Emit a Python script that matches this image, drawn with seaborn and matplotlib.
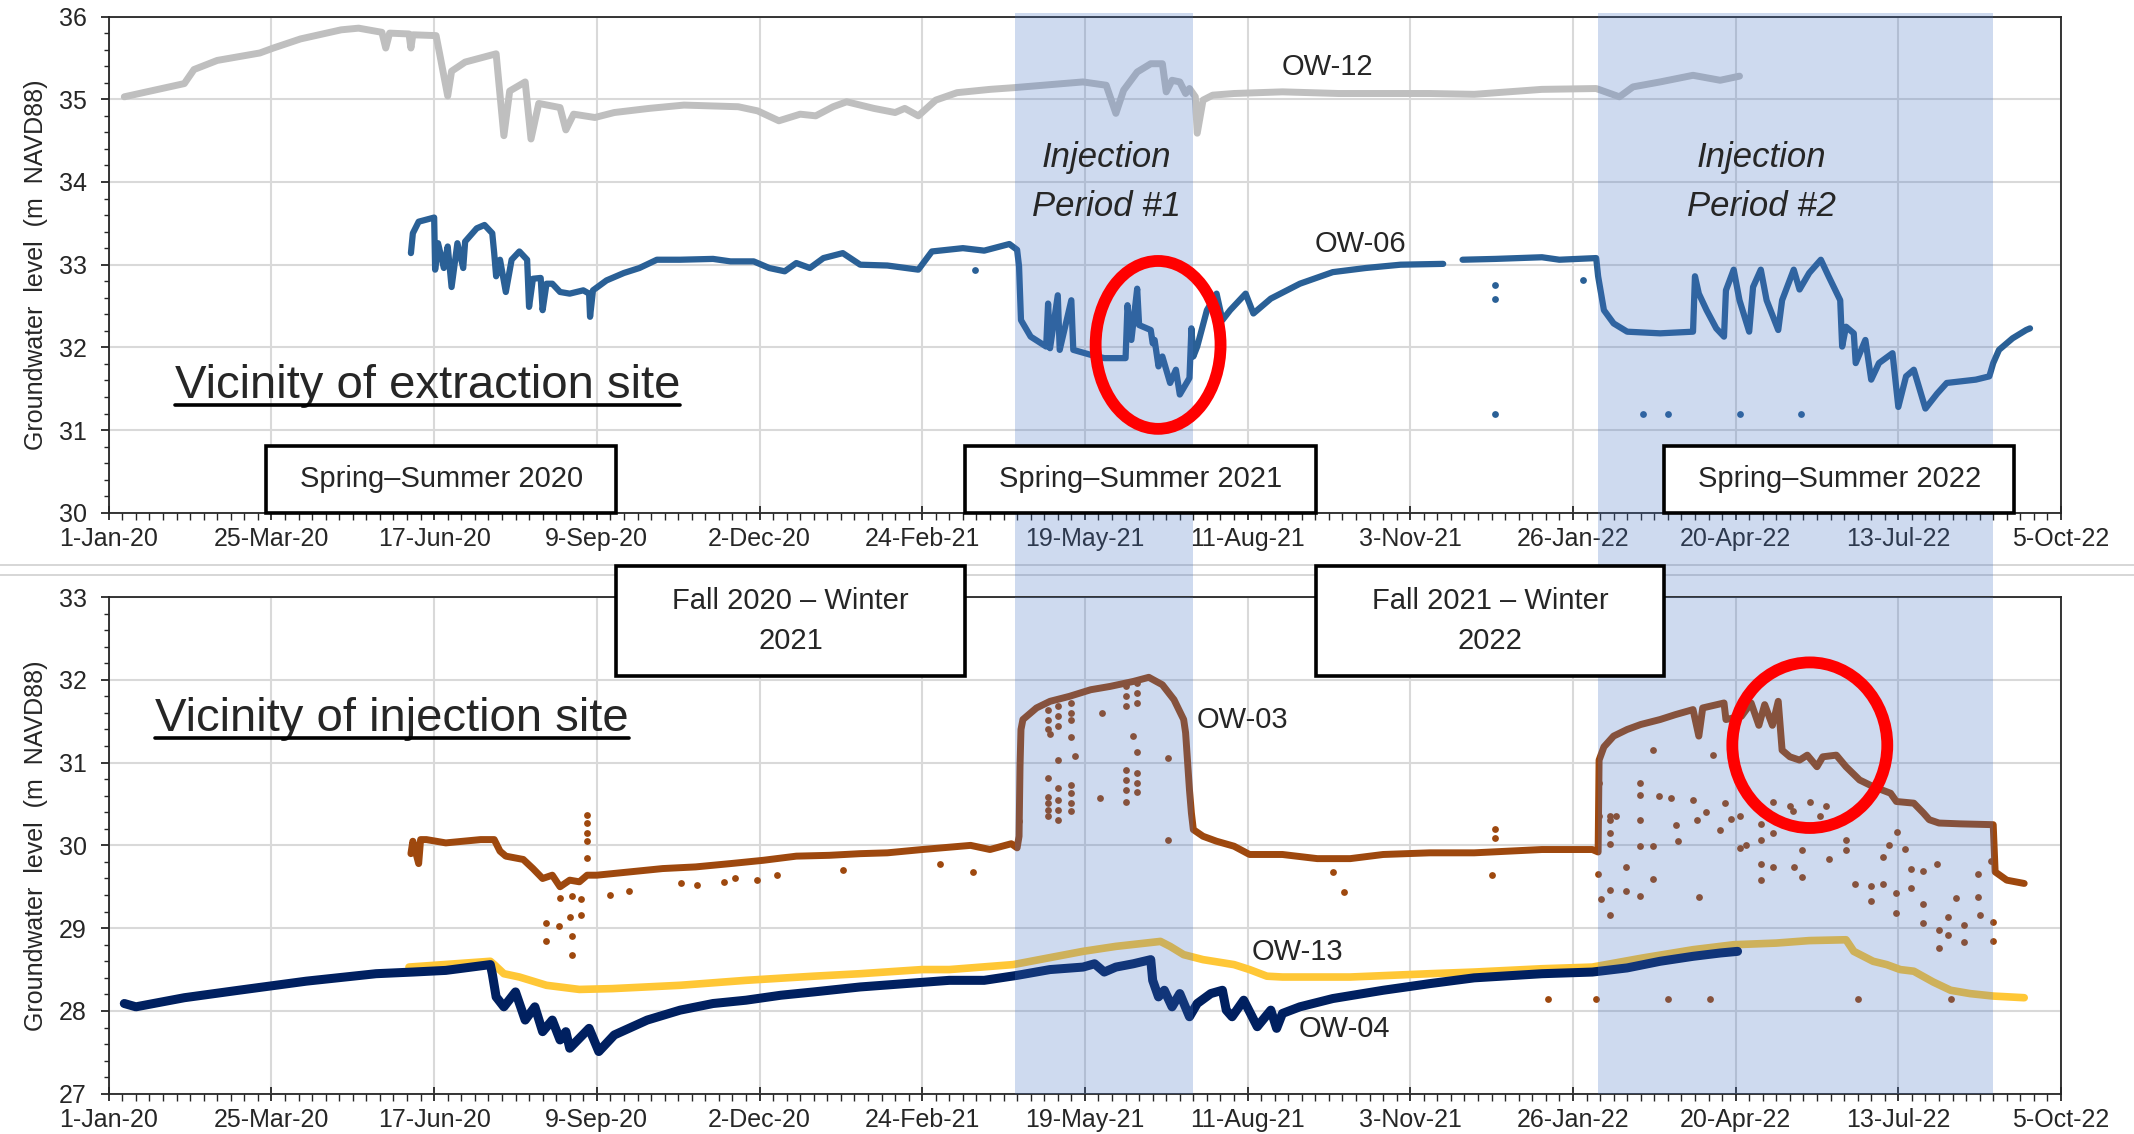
import matplotlib
matplotlib.use("Agg")
import matplotlib.pyplot as plt
import matplotlib.dates as mdates
from matplotlib.patches import Rectangle, Ellipse
from matplotlib.lines import Line2D
from matplotlib.ticker import FixedLocator, MultipleLocator
import seaborn as sns
import numpy as np
import pandas as pd

sns.set_theme(style="white")
plt.rcParams['font.family'] = ['Liberation Sans', 'DejaVu Sans']

START = pd.Timestamp('2020-01-01')
END = pd.Timestamp('2022-10-05')

# ---- data: x = days since 1-Jan-2020, y = groundwater level (m NAVD88) ----
# vicinity of extraction site
ow12_day = [8, 39, 44, 56, 78, 85, 99, 120, 129, 141, 143, 145, 155, 156, 157, 169, 171, 175, 177, 184,
            200, 201, 204, 207, 215, 218, 222, 233, 236, 240, 251, 261, 279, 297, 325, 335, 346, 357, 365,
            374, 381, 395, 406, 411, 418, 427, 438, 455, 467, 503, 515, 520, 524, 531, 538, 544, 546, 549,
            553, 556, 558, 561, 562, 565, 570, 581, 606, 635, 682, 705, 740, 768, 780, 787, 801, 818, 832, 842]
ow12_lvl = [35.03, 35.19, 35.36, 35.47, 35.56, 35.62, 35.73, 35.84, 35.86, 35.81, 35.62, 35.80, 35.79, 35.62,
            35.78, 35.77, 35.53, 35.04, 35.34, 35.45, 35.55, 35.30, 34.56, 35.10, 35.21, 34.52, 34.95, 34.90,
            34.63, 34.82, 34.78, 34.84, 34.89, 34.93, 34.91, 34.86, 34.74, 34.82, 34.80, 34.91, 34.97, 34.89,
            34.84, 34.89, 34.80, 34.99, 35.08, 35.12, 35.14, 35.21, 35.17, 34.83, 35.11, 35.33, 35.43, 35.43,
            35.09, 35.23, 35.21, 35.07, 35.13, 35.03, 34.59, 34.99, 35.05, 35.07, 35.09, 35.07, 35.07, 35.06,
            35.12, 35.13, 35.03, 35.15, 35.21, 35.29, 35.23, 35.28]

ow06a_day = [156, 157, 160, 168, 168.5, 170, 173, 175, 177, 180, 183, 184, 190, 194, 198, 199, 200, 202, 205,
             208, 212, 216, 217, 219, 223, 224, 226, 229, 233, 238, 245, 248, 248.5, 250, 257, 266, 274, 283,
             295, 312, 321, 333, 341, 349, 355, 362, 369, 379, 388, 402, 418, 425, 441, 452, 465, 469, 470,
             471, 476, 484, 485, 486, 490, 491, 497, 498, 507, 514, 525, 526, 528, 531, 532, 538, 539, 540,
             542, 544, 548, 551, 553, 558, 559, 560, 562, 567, 572, 575, 579, 587, 591, 600, 615, 632, 649,
             667, 689]
ow06a_lvl = [33.14, 33.38, 33.52, 33.57, 32.94, 33.26, 32.96, 33.22, 32.73, 33.26, 32.96, 33.28, 33.44, 33.48,
             33.38, 33.14, 32.86, 33.06, 32.67, 33.06, 33.16, 33.06, 32.49, 32.83, 32.84, 32.45, 32.77, 32.77,
             32.67, 32.65, 32.69, 32.65, 32.37, 32.69, 32.81, 32.90, 32.96, 33.06, 33.06, 33.07, 33.04, 33.04,
             32.96, 32.92, 33.02, 32.96, 33.08, 33.14, 33.00, 32.99, 32.94, 33.16, 33.20, 33.17, 33.25, 33.18,
             32.98, 32.33, 32.13, 32.01, 32.53, 31.99, 32.63, 31.97, 32.57, 31.97, 31.91, 31.87, 31.87, 32.51,
             32.09, 32.71, 32.27, 32.21, 32.05, 32.09, 31.77, 31.89, 31.57, 31.73, 31.43, 31.63, 32.23, 31.89,
             32.01, 32.45, 32.65, 32.33, 32.45, 32.65, 32.41, 32.59, 32.77, 32.91, 32.96, 33.00, 33.01]
ow06b_day = [699, 716, 740, 749, 768, 769, 772, 777, 784, 801, 818, 819, 821, 825, 830, 834, 835, 839, 842,
             847, 849, 853, 856, 862, 864, 870, 873, 878, 884, 888, 894, 895, 897, 901, 902, 907, 910, 914,
             921, 924, 928, 932, 938, 944, 949, 964, 971, 973, 976, 983, 990, 992]
ow06b_lvl = [33.06, 33.07, 33.09, 33.06, 33.08, 32.86, 32.45, 32.29, 32.19, 32.17, 32.19, 32.86, 32.65, 32.45,
             32.23, 32.13, 32.69, 32.94, 32.57, 32.19, 32.73, 32.94, 32.57, 32.21, 32.57, 32.94, 32.70, 32.90,
             33.06, 32.86, 32.57, 32.01, 32.25, 32.17, 31.81, 32.09, 31.61, 31.81, 31.93, 31.28, 31.65, 31.73,
             31.26, 31.44, 31.57, 31.61, 31.65, 31.81, 31.97, 32.11, 32.21, 32.23]
ow06_dot_day = [447, 716, 716, 716, 761, 792, 805, 842, 874]
ow06_dot_lvl = [32.94, 32.58, 32.75, 31.20, 32.82, 31.20, 31.20, 31.20, 31.20]

# vicinity of injection site
ow03_day = [156, 157, 160, 161, 164, 174, 192, 199, 202, 205, 214, 219, 224, 229, 233, 238, 243, 247, 252,
            269, 286, 303, 321, 338, 355, 372, 388, 402, 420, 445, 455, 466, 469, 470, 470.5, 471, 472, 479,
            486, 496, 507, 517, 529, 537, 544, 550, 555, 556, 558, 559, 560, 565, 572, 581, 589, 606, 624,
            641, 658, 682, 705, 740, 766, 769, 769.5, 772, 777, 784, 791, 801, 809, 818, 821, 823, 834, 835,
            843, 848, 852, 855, 859, 862, 864, 868, 873, 877, 882, 885, 892, 897, 904, 911, 920, 923, 932,
            937, 940, 945, 956, 973, 974, 980, 989]
ow03_lvl = [29.90, 30.05, 29.78, 30.07, 30.07, 30.03, 30.07, 30.07, 29.93, 29.87, 29.83, 29.72, 29.60, 29.64,
            29.50, 29.58, 29.56, 29.64, 29.64, 29.68, 29.72, 29.74, 29.78, 29.82, 29.87, 29.88, 29.90, 29.91,
            29.95, 30.00, 29.95, 30.02, 29.97, 30.11, 30.95, 31.40, 31.52, 31.66, 31.74, 31.80, 31.88, 31.92,
            31.98, 32.03, 31.94, 31.76, 31.52, 31.36, 30.67, 30.39, 30.19, 30.11, 30.05, 29.99, 29.89, 29.89,
            29.84, 29.84, 29.89, 29.91, 29.91, 29.95, 29.95, 29.92, 31.03, 31.19, 31.32, 31.40, 31.46, 31.52,
            31.58, 31.64, 31.32, 31.66, 31.72, 31.52, 31.56, 31.72, 31.45, 31.70, 31.45, 31.74, 31.15, 31.07,
            31.03, 31.09, 30.95, 31.07, 31.09, 30.95, 30.79, 30.71, 30.63, 30.53, 30.51, 30.39, 30.31, 30.27,
            30.26, 30.25, 29.68, 29.58, 29.54]
ow03_dot_day = [225.5, 225.5, 232.4, 238.1, 239, 239, 243.6, 232.9, 239.3, 243.8, 258.7, 268.7, 295.4, 303.5,
                317.8, 323.3, 334.5, 344.8, 379.2, 246.7, 246.7, 246.7, 246.7, 247, 429, 446, 470, 486, 490,
                497, 499, 512, 513, 529, 531, 547, 547, 632, 638, 714, 716, 716,
                485, 485, 485, 485, 485, 485, 485, 485, 490, 490, 490, 490, 490, 490, 490,
                497, 497, 497, 497, 497, 497, 497, 525, 525, 525, 525, 525, 525, 525,
                531, 531, 531, 531, 531, 531,
                769.5, 769.5, 775, 775, 775, 775, 775, 775, 778.1, 790.5, 790.5, 790.5, 790.5, 790.5,
                797.4, 797.4, 797.4, 800.5, 806.8, 809.4, 810.3, 783.6, 783.3, 770.7, 769, 821.1, 818,
                819.8, 824.9, 828.4, 831.8, 834.4, 837.8, 842.1, 842.1, 845.6, 853, 853, 853, 853, 859.3,
                859.3, 859.3, 867.9, 869.7, 870.2, 874.1, 874.1, 878.3, 883.4, 886.9, 888.2, 896.9, 896.9,
                901.7, 910.1, 910.1, 916.1, 916.1, 919.2, 923, 923, 923.4, 927.3, 930.8, 930.8, 936.8, 936.8,
                936.8, 945, 945, 944.2, 949.9, 949.9, 954, 958.1, 958.1, 965.2, 965.2, 966, 972.9, 972.9, 971.7,
                743, 768, 805, 827, 903, 951]
ow03_dot_lvl = [29.06, 28.84, 29.03, 29.13, 28.90, 28.68, 29.16, 29.37, 29.39, 29.35, 29.40, 29.45, 29.55, 29.52,
                29.56, 29.61, 29.58, 29.64, 29.70, 30.37, 30.27, 30.15, 30.05, 29.85, 29.78, 29.68, 30.29, 31.35,
                31.03, 31.31, 31.08, 30.57, 31.60, 31.32, 31.13, 31.05, 30.06, 29.68, 29.44, 29.64, 30.20, 30.09,
                31.64, 31.52, 31.40, 30.81, 30.59, 30.51, 30.43, 30.35, 31.68, 31.56, 31.44, 30.69, 30.55, 30.43,
                30.31, 31.72, 31.60, 31.52, 30.73, 30.63, 30.51, 30.41, 31.92, 31.80, 31.68, 30.91, 30.79, 30.67,
                30.53, 31.96, 31.84, 31.72, 30.87, 30.75, 30.65,
                30.75, 30.35, 30.31, 30.15, 30.02, 29.46, 29.16, 30.35, 30.35, 30.75, 30.61, 30.31, 29.99, 29.39,
                31.15, 29.99, 29.59, 30.60, 30.57, 30.25, 30.05, 29.74, 29.45, 29.35, 29.66, 29.38, 30.55,
                30.31, 30.40, 31.09, 30.18, 30.51, 30.32, 30.35, 29.97, 30.01, 30.26, 30.06, 29.78, 29.58, 30.15,
                29.74, 30.53, 30.47, 30.41, 29.74, 29.62, 29.95, 30.53, 30.35, 30.47, 29.84, 29.95, 30.06,
                29.53, 29.51, 29.33, 29.86, 29.53, 30.01, 29.18, 29.42, 30.16, 29.96, 29.71, 29.48, 29.29, 29.06,
                29.69, 28.98, 28.76, 29.78, 29.13, 28.92, 29.37, 29.04, 28.83, 29.38, 29.66, 29.16, 29.07, 28.84,
                29.81, 28.15, 28.15, 28.15, 28.15, 28.15, 28.15]

ow13_day = [155, 197, 199, 204, 212, 226, 243, 260, 295, 329, 364, 388, 420, 434, 467, 503, 520, 543, 548, 555,
            565, 581, 589, 598, 606, 641, 682, 705, 740, 766, 792, 818, 839, 861, 878, 897, 901, 911, 918, 925,
            932, 942, 951, 961, 973, 989]
ow13_lvl = [28.53, 28.60, 28.56, 28.45, 28.41, 28.31, 28.26, 28.27, 28.31, 28.37, 28.42, 28.45, 28.50, 28.50,
            28.56, 28.72, 28.78, 28.84, 28.78, 28.68, 28.62, 28.56, 28.50, 28.42, 28.41, 28.41, 28.45, 28.47,
            28.51, 28.53, 28.64, 28.74, 28.80, 28.82, 28.85, 28.86, 28.72, 28.60, 28.56, 28.50, 28.48, 28.35,
            28.25, 28.21, 28.18, 28.16]

ow04_day = [8, 14, 39, 67, 102, 138, 157, 174, 197, 198, 200, 204, 210, 215, 220, 224, 229, 233, 236, 238, 248,
            253, 261, 278, 295, 312, 329, 347, 364, 388, 434, 452, 469, 486, 503, 509, 514, 520, 529, 538, 539,
            542, 545, 549, 553, 558, 562, 569, 575, 577, 580, 586, 593, 600, 603, 606, 615, 632, 658, 682, 705,
            740, 766, 784, 801, 818, 832, 841]
ow04_lvl = [28.09, 28.05, 28.16, 28.25, 28.36, 28.45, 28.47, 28.49, 28.56, 28.45, 28.17, 28.05, 28.23, 27.89,
            28.05, 27.75, 27.89, 27.65, 27.75, 27.55, 27.79, 27.51, 27.71, 27.89, 28.01, 28.09, 28.13, 28.19,
            28.23, 28.29, 28.37, 28.37, 28.43, 28.50, 28.53, 28.57, 28.47, 28.53, 28.57, 28.62, 28.37, 28.17,
            28.25, 28.05, 28.21, 27.93, 28.09, 28.21, 28.25, 28.01, 27.93, 28.13, 27.81, 28.01, 27.79, 27.97,
            28.05, 28.15, 28.25, 28.33, 28.40, 28.45, 28.47, 28.52, 28.60, 28.66, 28.70, 28.72]

injection_periods = [('2021-04-13', '2021-07-14'), ('2022-02-08', '2022-08-31')]

C_GRAY, C_BLUE, C_BROWN, C_GOLD, C_NAVY = '#BFBFBF', '#2A6096', '#9E480E', '#FFC736', '#002060'
BAND = '#4472C4'


def frame(days, lvl):
    return pd.DataFrame({'date': START + pd.to_timedelta(days, unit='D'), 'level': lvl})


def dnum(d):
    return mdates.date2num(pd.Timestamp(d))


def day_x(d):
    return mdates.date2num(START + pd.Timedelta(days=d))


fig = plt.figure(figsize=(21.34, 11.34), dpi=100, facecolor='white')
ax1 = fig.add_axes([0.05098, 0.5478, 0.91481, 0.43757])
ax2 = fig.add_axes([0.05098, 0.03549, 0.91481, 0.43805])
ax2.set_facecolor('none')

# separator lines between the two panels
for yy in (0.5018, 0.4930):
    fig.add_artist(Line2D([0, 1], [yy, yy], transform=fig.transFigure, color='#D0D0D0', lw=1.2, zorder=-1))

line_kw = dict(estimator=None, sort=False, legend=False, solid_joinstyle='round', solid_capstyle='round')
dot_kw = dict(s=24, linewidth=0, legend=False)

# top panel
sns.lineplot(data=frame(ow12_day, ow12_lvl), x='date', y='level', color=C_GRAY, lw=5, ax=ax1, **line_kw)
sns.lineplot(data=frame(ow06a_day, ow06a_lvl), x='date', y='level', color=C_BLUE, lw=4.5, ax=ax1, **line_kw)
sns.lineplot(data=frame(ow06b_day, ow06b_lvl), x='date', y='level', color=C_BLUE, lw=4.5, ax=ax1, **line_kw)
sns.scatterplot(data=frame(ow06_dot_day, ow06_dot_lvl), x='date', y='level', color=C_BLUE, ax=ax1, **dot_kw)

# bottom panel
sns.lineplot(data=frame(ow13_day, ow13_lvl), x='date', y='level', color=C_GOLD, lw=5.5, ax=ax2, **line_kw)
sns.lineplot(data=frame(ow04_day, ow04_lvl), x='date', y='level', color=C_NAVY, lw=6.5, ax=ax2, **line_kw)
sns.scatterplot(data=frame(ow03_dot_day, ow03_dot_lvl), x='date', y='level', color=C_BROWN, ax=ax2, **dot_kw)
sns.lineplot(data=frame(ow03_day, ow03_lvl), x='date', y='level', color=C_BROWN, lw=5, ax=ax2, **line_kw)

major = mdates.date2num(pd.date_range(START, END, freq='84D'))
minor = mdates.date2num(pd.date_range(START, END, freq='7D'))

for ax, lo in ((ax1, 30), (ax2, 27)):
    ax.set_xlim(START, END)
    ax.set_ylim(lo, lo + 6)
    ax.xaxis.set_major_locator(FixedLocator(major))
    ax.xaxis.set_minor_locator(FixedLocator(minor))
    ax.xaxis.set_major_formatter(mdates.DateFormatter('%-d-%b-%y'))
    ax.yaxis.set_major_locator(MultipleLocator(1))
    ax.yaxis.set_minor_locator(MultipleLocator(0.2))
    ax.set_axisbelow(True)
    ax.grid(True, which='major', color='#D9D9D9', lw=1.5)
    ax.tick_params(axis='x', which='major', direction='inout', length=10, width=1.3,
                   labelsize=18, pad=5, bottom=True, color='#262626')
    ax.tick_params(axis='x', which='minor', direction='out', length=5, width=1, bottom=True, color='#262626')
    ax.tick_params(axis='y', which='major', direction='out', length=6, width=1.3,
                   labelsize=18, pad=10, left=True, color='#262626')
    ax.tick_params(axis='y', which='minor', direction='out', length=3.6, width=1, left=True, color='#262626')
    for sp in ax.spines.values():
        sp.set_visible(True)
        sp.set_color('#262626')
        sp.set_linewidth(1.3)
    ax.set_xlabel('')
    ax.set_ylabel('Groundwater  level  (m  NAVD88)', fontsize=18, color='#262626')
    ax.yaxis.set_label_coords(-0.031, 0.5)

# injection period shading (drawn over the data, as in the original)
for a, b in injection_periods:
    x0, w = dnum(a), dnum(b) - dnum(a)
    ax1.add_patch(Rectangle((x0, -0.1697), w, 1.1767, transform=ax1.get_xaxis_transform(),
                            color=BAND, alpha=0.26, lw=0, zorder=3, clip_on=False))
    ax2.add_patch(Rectangle((x0, 0), w, 1, transform=ax2.get_xaxis_transform(),
                            color=BAND, alpha=0.26, lw=0, zorder=3, clip_on=False))


# season boxes
def season_box(ax, x0, x1, y0, y1, text, ls=1.2):
    ax.add_patch(Rectangle((x0, y0), x1 - x0, y1 - y0, transform=ax.transAxes, fc='white',
                           ec='black', lw=2.6, zorder=5, clip_on=False))
    ax.text((x0 + x1) / 2, (y0 + y1) / 2, text, transform=ax.transAxes, ha='center', va='center',
            fontsize=21, zorder=6, linespacing=ls, multialignment='center')


season_box(ax1, 0.0806, 0.2599, 0.0, 0.1346, 'Spring\u2013Summer 2020')
season_box(ax1, 0.4386, 0.6182, 0.0, 0.1346, 'Spring\u2013Summer 2021')
season_box(ax1, 0.7968, 0.9761, 0.0, 0.1346, 'Spring\u2013Summer 2022')
season_box(ax2, 0.2598, 0.4386, 0.840, 1.063, 'Fall 2020 \u2013 Winter\n2021', ls=1.55)
season_box(ax2, 0.6182, 0.7968, 0.840, 1.063, 'Fall 2021 \u2013 Winter\n2022', ls=1.55)

# well labels
for ax, d, v, s in ((ax1, 605.5, 35.39, 'OW-12'), (ax1, 622.7, 33.25, 'OW-06'),
                    (ax2, 561.6, 31.52, 'OW-03'), (ax2, 590, 28.71, 'OW-13'), (ax2, 614.5, 27.78, 'OW-04')):
    ax.text(day_x(d), v, s, fontsize=21, ha='left', va='center', zorder=6)

for d, n in ((515, 1), (853.5, 2)):
    ax1.text(day_x(d), 34.0, 'Injection\nPeriod #%d' % n, fontsize=25, style='italic',
             ha='center', va='center', linespacing=1.6, zorder=6)

# red circles marking anomalies
ax1.add_patch(Ellipse((day_x(541.8), 32.03), 64.5, 2.03, fill=False, ec='#FF0000', lw=8.5, zorder=7))
ax2.add_patch(Ellipse((day_x(878.3), 31.21), 80, 2.0, fill=False, ec='#FF0000', lw=8.5, zorder=7))

# underlined site titles
titles = [(ax1, 34, 31.39, 'Vicinity of extraction site'), (ax2, 24, 31.38, 'Vicinity of injection site')]
txts = [ax.text(day_x(d), v, s, fontsize=34, ha='left', va='baseline', zorder=6) for ax, d, v, s in titles]
fig.canvas.draw()
r = fig.canvas.get_renderer()
W, H = fig.bbox.width, fig.bbox.height
for t, (ax, d, v, s) in zip(txts, titles):
    bb = t.get_window_extent(r)
    yb = ax.transData.transform((day_x(d), v))[1] - 7
    fig.add_artist(Line2D([bb.x0 / W, bb.x1 / W], [yb / H, yb / H], transform=fig.transFigure,
                          color='black', lw=2.6, zorder=10))

fig.savefig('out.png', dpi=100, facecolor='white')
